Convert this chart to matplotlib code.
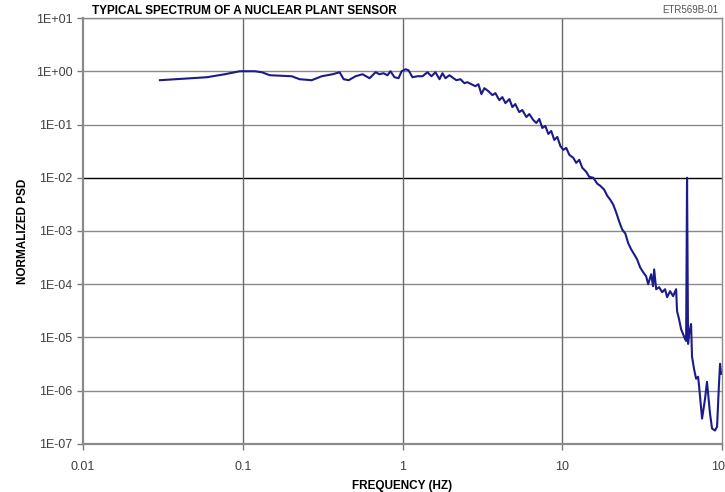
import matplotlib
matplotlib.use("Agg")
import matplotlib.pyplot as plt
from matplotlib.ticker import FixedLocator, NullLocator

plt.rcParams['font.family'] = ['Liberation Sans', 'DejaVu Sans']

# Frequency (Hz) and normalized PSD
freq = [
    0.0303, 0.0596, 0.0772, 0.0957, 0.119, 0.1316, 0.1476, 0.2023, 0.227, 0.27,
    0.312, 0.365, 0.404, 0.428, 0.46, 0.508, 0.562, 0.622, 0.678, 0.718,
    0.76, 0.805, 0.841, 0.891, 0.944, 0.987, 1.045, 1.09, 1.155, 1.24,
    1.334, 1.432, 1.518, 1.607, 1.703, 1.778, 1.857, 1.967, 2.084, 2.175,
    2.304, 2.44, 2.547, 2.698, 2.858, 2.985, 3.118, 3.254, 3.447, 3.652,
    3.812, 4.037, 4.217, 4.406, 4.667, 4.87, 5.08, 5.38, 5.62, 5.96,
    6.22, 6.59, 6.88, 7.18, 7.5, 7.83, 8.18, 8.53, 8.91, 9.31,
    9.72, 10.15, 10.59, 11.07, 11.72, 12.23, 12.77, 13.34, 14.13, 14.75,
    15.63, 16.56, 17.28, 18.3, 19.1, 19.95, 20.84, 21.76, 22.7, 23.7,
    24.8, 25.9, 27.0, 28.2, 29.4, 30.7, 32.1, 33.5, 34.5, 36.0,
    37.0, 37.6, 38.7, 40.4, 42.2, 44.0, 45.3, 47.3, 49.4, 51.6,
    52.3, 53.8, 55.4, 57.0, 58.7, 59.6, 60.4, 61.3, 62.2, 64.0,
    64.9, 66.8, 68.8, 70.8, 71.8, 75.0, 78.3, 80.5, 84.1, 86.6,
    90.4, 93.1, 95.7, 97.2, 98.6,
]
psd = [
    0.679, 0.772, 0.879, 1.0, 1.0, 0.958, 0.842, 0.806, 0.709, 0.679,
    0.806, 0.879, 0.958, 0.709, 0.679, 0.806, 0.879, 0.74, 0.958, 0.879,
    0.918, 0.842, 1.0, 0.772, 0.74, 1.0, 1.09, 1.044, 0.772, 0.806,
    0.806, 0.958, 0.806, 0.958, 0.709, 0.918, 0.74, 0.842, 0.74, 0.679,
    0.709, 0.597, 0.623, 0.572, 0.524, 0.572, 0.372, 0.481, 0.423, 0.356,
    0.388, 0.287, 0.327, 0.252, 0.3, 0.212, 0.242, 0.171, 0.187, 0.138,
    0.157, 0.121, 0.107, 0.127, 0.086, 0.094, 0.0665, 0.0756, 0.0513, 0.0584,
    0.0397, 0.0334, 0.0364, 0.0269, 0.0237, 0.019, 0.0217, 0.0154, 0.0129, 0.0104,
    0.0100, 0.00773, 0.00708, 0.00597, 0.00461, 0.00388, 0.00313, 0.00222, 0.00151, 0.00107,
    8.98e-4, 5.84e-4, 4.51e-4, 3.64e-4, 2.93e-4, 2.08e-4, 1.68e-4, 1.41e-4, 1.0e-4, 1.54e-4,
    9.18e-5, 1.9e-4, 8.07e-5, 8.79e-5, 7.08e-5, 8.07e-5, 5.71e-5, 7.4e-5, 5.97e-5, 8.07e-5,
    3.13e-5, 2.22e-5, 1.44e-5, 1.16e-5, 9.38e-6, 8.6e-6, 1.0e-2, 7.57e-6, 1.16e-5, 1.79e-5,
    4.32e-6, 2.58e-6, 1.68e-6, 1.83e-6, 1.24e-6, 3.0e-7, 7.08e-7, 1.47e-6, 3.72e-7, 1.95e-7,
    1.79e-7, 2.12e-7, 1.35e-6, 3.2e-6, 2.08e-6,
]

x_ticks = [0.01, 0.1, 1, 10, 100]
x_labels = ["0.01", "0.1", "1", "10", "100"]
y_ticks = [1e-7, 1e-6, 1e-5, 1e-4, 1e-3, 1e-2, 1e-1, 1e0, 1e1]
y_labels = ["1E-07", "1E-06", "1E-05", "1E-04", "1E-03", "1E-02", "1E-01", "1E+00", "1E+01"]

fig = plt.figure(figsize=(7.25, 4.92), dpi=100)
ax = fig.add_axes([0.1145, 0.0976, 0.8814, 0.8658])
ax.set_xscale("log")
ax.set_yscale("log")
ax.set_xlim(0.01, 100)
ax.set_ylim(1e-7, 1e1)

# grid: gray lines, the 1E-02 line in black
for yv in y_ticks:
    ax.axhline(yv, color="#000000" if yv == 1e-2 else "#8a8a8a", lw=1.0, zorder=1)
for xv in x_ticks[1:-1]:
    ax.axvline(xv, color="#6a6a6a", lw=1.0, zorder=1)

ax.plot(freq, psd, color="#1b1b8a", lw=1.5, zorder=3)

ax.xaxis.set_major_locator(FixedLocator(x_ticks))
ax.yaxis.set_major_locator(FixedLocator(y_ticks))
ax.xaxis.set_minor_locator(NullLocator())
ax.yaxis.set_minor_locator(NullLocator())
ax.set_xticklabels(x_labels)
ax.set_yticklabels(y_labels)
ax.tick_params(axis="both", colors="#7a7a7a", labelcolor="#404040", labelsize=9,
               length=4, width=1)
ax.tick_params(axis="x", pad=8)

for side, sp in ax.spines.items():
    sp.set_color("#8a8a8a")
    sp.set_linewidth(1.0)
ax.spines["left"].set_linewidth(1.6)
ax.spines["bottom"].set_linewidth(1.6)

ax.set_xlabel("FREQUENCY (HZ)", fontsize=8.5, fontweight="bold", labelpad=5)
ax.set_ylabel("NORMALIZED PSD", fontsize=8.5, fontweight="bold", labelpad=5)

fig.text(92 / 725, 1 - 11 / 492, "TYPICAL SPECTRUM OF A NUCLEAR PLANT SENSOR",
         fontsize=8.5, fontweight="bold", ha="left", va="center")
fig.text(718 / 725, 1 - 10 / 492, "ETR569B-01", fontsize=7, color="#555555",
         ha="right", va="center")

fig.savefig("out.png", dpi=100)
